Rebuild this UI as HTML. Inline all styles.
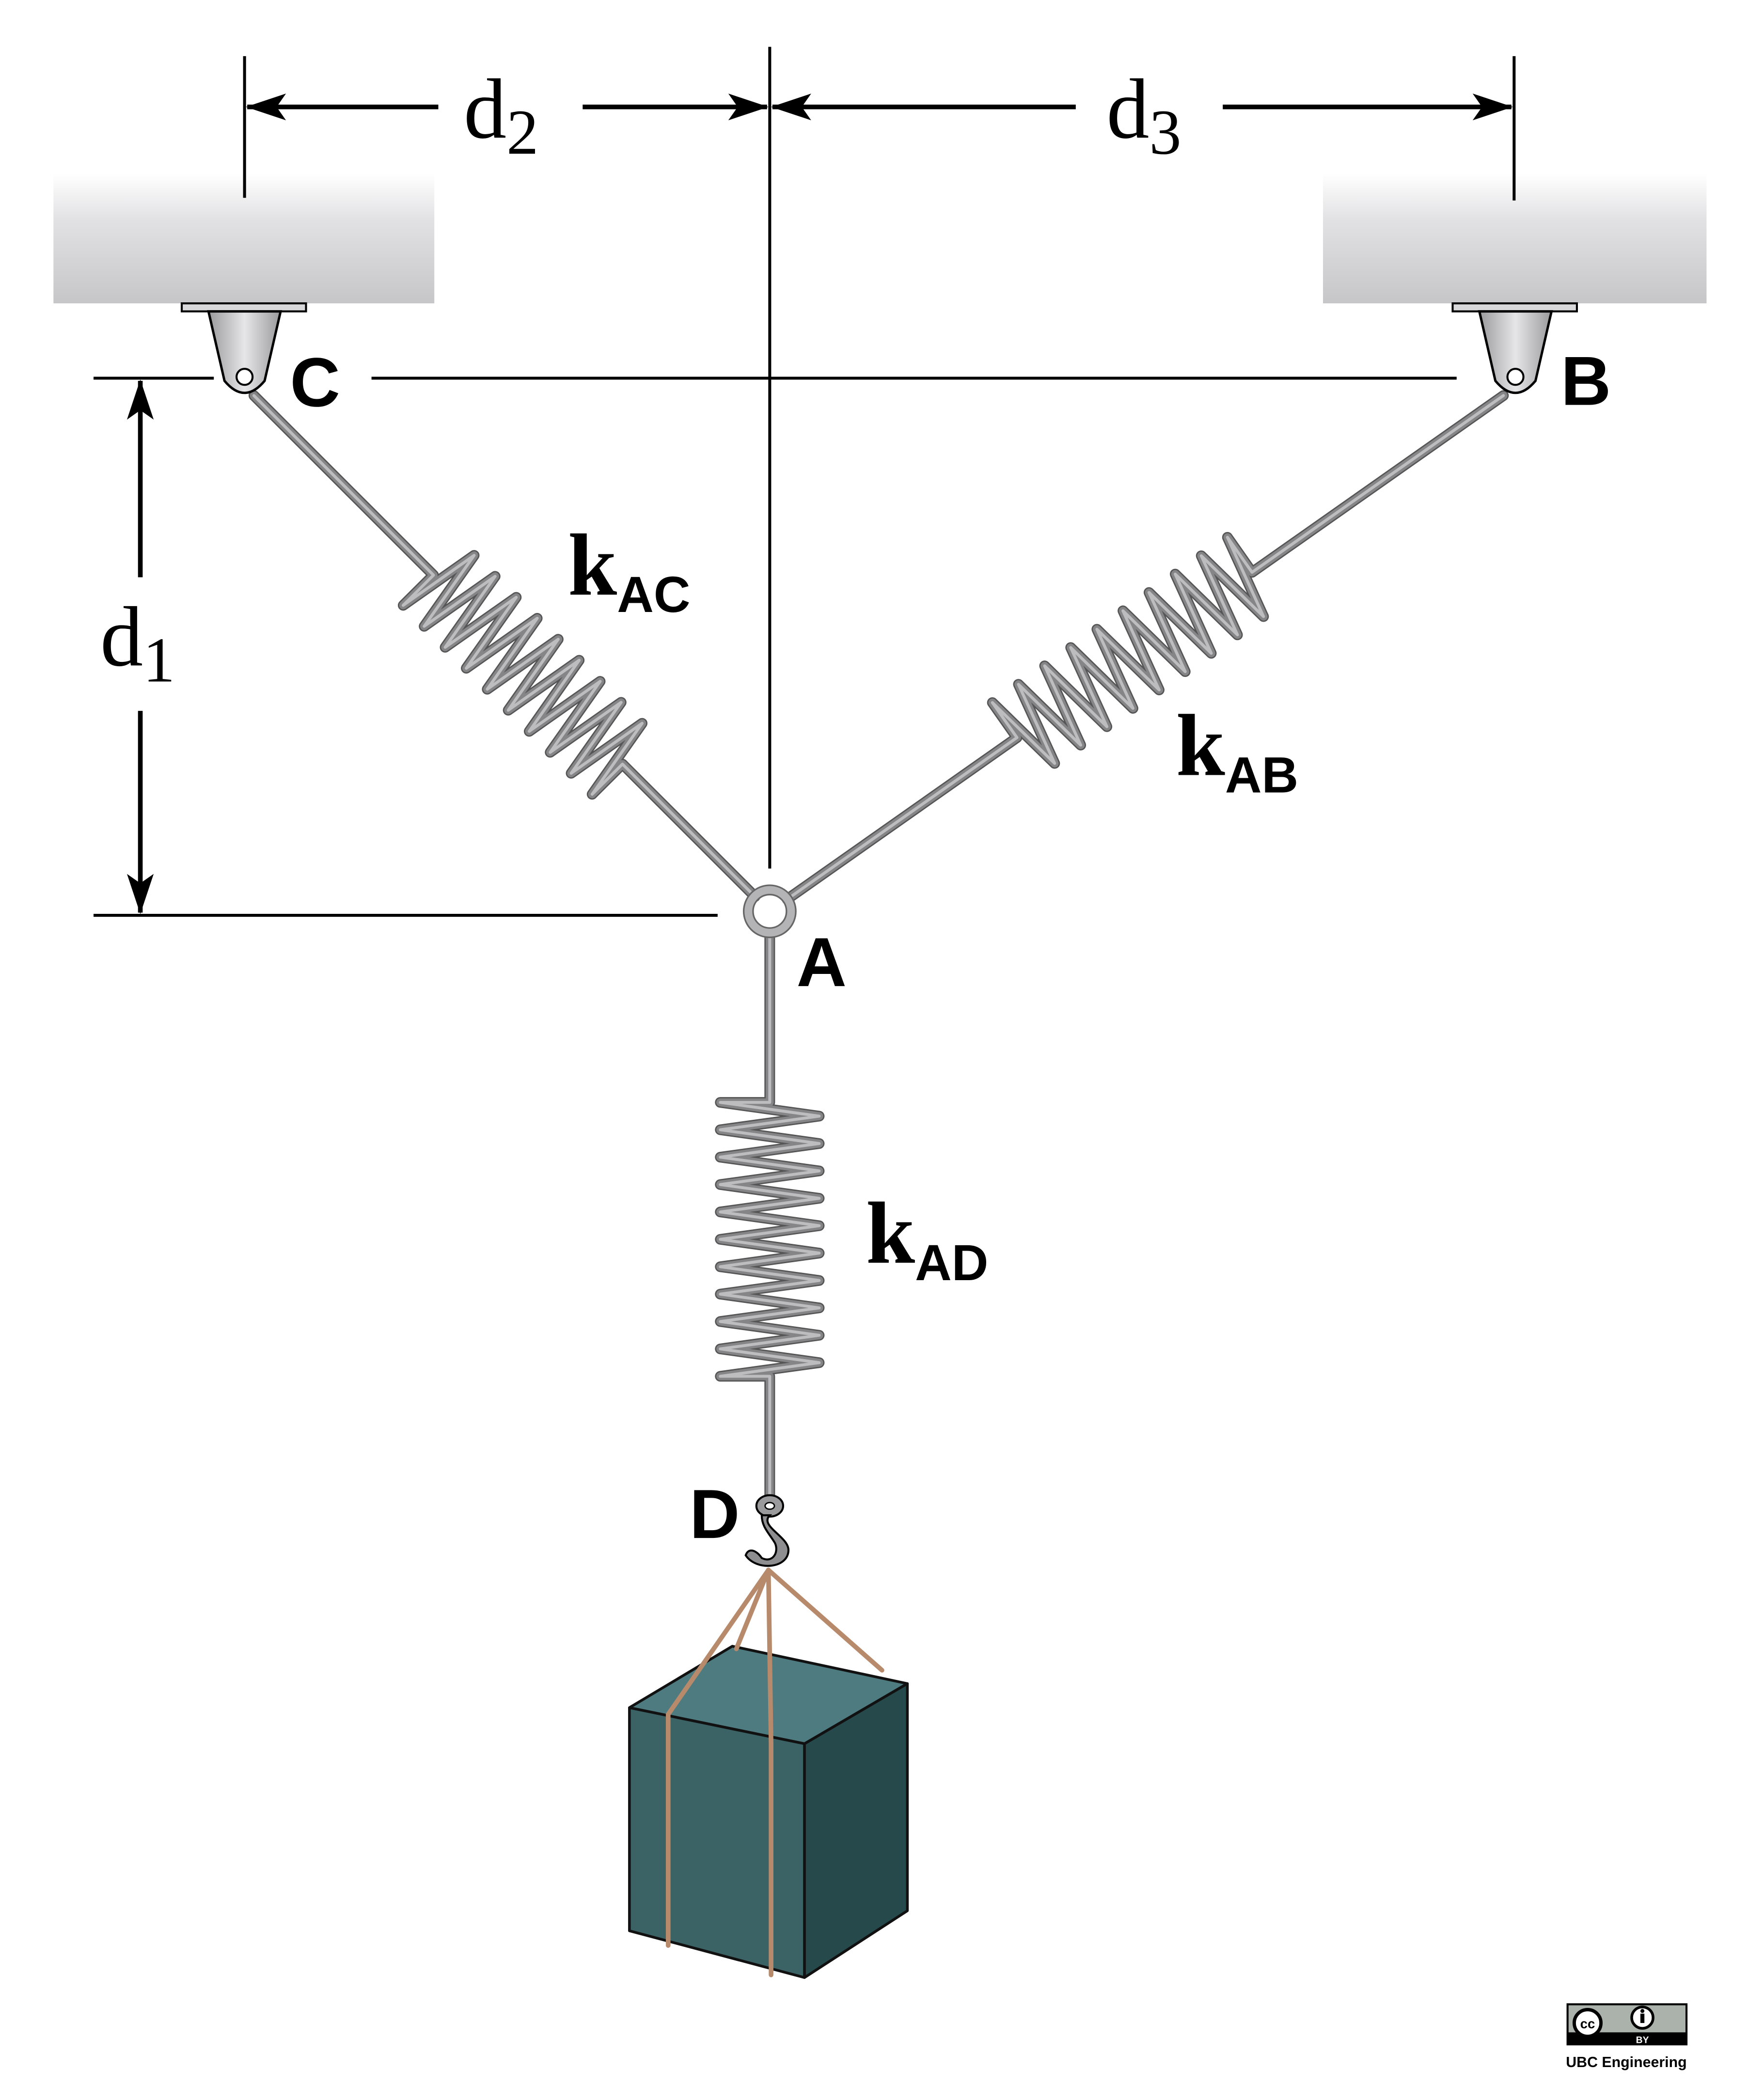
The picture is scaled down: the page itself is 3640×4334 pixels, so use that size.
<!DOCTYPE html>
<html><head><meta charset="utf-8">
<style>
html,body{margin:0;padding:0;background:#fff;}
svg{display:block;}
.lbl{font-family:"Liberation Sans",sans-serif;font-weight:bold;}
.ser{font-family:"Liberation Serif",serif;}
</style></head>
<body>
<svg id="fig" width="3640" height="4334" viewBox="0 0 1320 1571.6" xmlns="http://www.w3.org/2000/svg">
<defs>
<linearGradient id="ceil" x1="0" y1="0" x2="0" y2="1">
<stop offset="0" stop-color="#ffffff"/><stop offset="0.35" stop-color="#e2e2e4"/><stop offset="1" stop-color="#c6c6c8"/>
</linearGradient>
<linearGradient id="brk" x1="0" y1="0" x2="1" y2="0">
<stop offset="0" stop-color="#9a9a9c"/><stop offset="0.5" stop-color="#e6e6e8"/><stop offset="1" stop-color="#9a9a9c"/>
</linearGradient>
<marker id="ah" viewBox="0 0 30 20" refX="29" refY="10" markerWidth="30" markerHeight="20" markerUnits="userSpaceOnUse" orient="auto">
<path d="M0,0 L30,10 L0,20 L7,10 Z" fill="#000"/>
</marker>
</defs>

<rect x="40" y="130" width="285" height="97" fill="url(#ceil)"/>
<rect x="990" y="130" width="287" height="97" fill="url(#ceil)"/>

<g stroke="#000" stroke-width="2.2" fill="none">
<line x1="183" y1="42" x2="183" y2="148"/>
<line x1="576" y1="35" x2="576" y2="650"/>
<line x1="1133" y1="42" x2="1133" y2="150"/>
<line x1="70" y1="283" x2="160" y2="283"/>
<line x1="278" y1="283" x2="1090" y2="283"/>
<line x1="70" y1="685" x2="537" y2="685"/>
<line x1="328" y1="80" x2="185" y2="80" stroke-width="3.5" marker-end="url(#ah)"/>
<line x1="436" y1="80" x2="574" y2="80" stroke-width="3.5" marker-end="url(#ah)"/>
<line x1="805" y1="80" x2="578" y2="80" stroke-width="3.5" marker-end="url(#ah)"/>
<line x1="915" y1="80" x2="1131" y2="80" stroke-width="3.5" marker-end="url(#ah)"/>
<line x1="105" y1="432" x2="105" y2="285" stroke-width="3.5" marker-end="url(#ah)"/>
<line x1="105" y1="532" x2="105" y2="683" stroke-width="3.5" marker-end="url(#ah)"/>
</g>
<text class="ser" x="347" y="103" font-size="64">d<tspan font-size="48" dy="12">2</tspan></text>
<text class="ser" x="828" y="103" font-size="64">d<tspan font-size="48" dy="12">3</tspan></text>
<text class="ser" x="75" y="498" font-size="64">d<tspan font-size="48" dy="12">1</tspan></text>

<g id="springs"></g>

<g>
<rect x="136" y="227" width="93" height="6" fill="#d8d8da" stroke="#000" stroke-width="1.5"/>
<path d="M156,233 L210,233 L198,285 Q183,303 168,285 Z" fill="url(#brk)" stroke="#000" stroke-width="1.8"/>
<circle cx="183" cy="282" r="6" fill="#fff" stroke="#000" stroke-width="1.5"/>
</g>
<g>
<rect x="1087" y="227" width="93" height="6" fill="#d8d8da" stroke="#000" stroke-width="1.5"/>
<path d="M1107,233 L1161,233 L1149,285 Q1134,303 1119,285 Z" fill="url(#brk)" stroke="#000" stroke-width="1.8"/>
<circle cx="1134" cy="282" r="6" fill="#fff" stroke="#000" stroke-width="1.5"/>
</g>

<circle cx="576" cy="682" r="16" fill="none" stroke="#b4b4b6" stroke-width="7"/>
<circle cx="576" cy="682" r="19.5" fill="none" stroke="#666" stroke-width="1.2"/>
<circle cx="576" cy="682" r="12.5" fill="none" stroke="#666" stroke-width="1.2"/>

<g>
<ellipse cx="576" cy="1127" rx="10" ry="8" fill="#9a9a9c" stroke="#000" stroke-width="1.5"/>
<ellipse cx="576" cy="1127" rx="3.5" ry="2.5" fill="#fff" stroke="#000" stroke-width="1"/>
<path d="M576,1134 C568,1142 590,1150 590,1160 C590,1174 566,1176 558,1164 C560,1158 566,1160 570,1166 C578,1170 583,1162 580,1155 C576,1148 570,1143 570,1134 Z" fill="#8e8e90" stroke="#000" stroke-width="1.5"/>
</g>

<g stroke="#111" stroke-width="2" stroke-linejoin="round">
<polygon points="471,1278 548,1232 679,1260 602,1305" fill="#4d7b80"/>
<polygon points="471,1278 602,1305 602,1480 471,1445" fill="#3b6366"/>
<polygon points="602,1305 679,1260 679,1430 602,1480" fill="#26494c"/>
</g>
<g stroke="#b88a6c" stroke-width="3.5" fill="none" stroke-linecap="round">
<polyline points="575,1175 500,1283 500,1456"/>
<polyline points="575,1175 577,1305 577,1478"/>
<line x1="575" y1="1175" x2="551" y2="1234"/>
<line x1="575" y1="1175" x2="660" y2="1250"/>
</g>

<text class="lbl" x="217" y="304" font-size="52">C</text>
<text class="lbl" x="1168" y="303" font-size="52">B</text>
<text class="lbl" x="596" y="738" font-size="52">A</text>
<text class="lbl" x="516" y="1151" font-size="52">D</text>

<text x="425" y="445" font-size="66" class="ser" font-weight="bold">k<tspan class="lbl" font-size="38" dy="13">AC</tspan></text>
<text x="880" y="580" font-size="66" class="ser" font-weight="bold">k<tspan class="lbl" font-size="38" dy="13">AB</tspan></text>
<text x="648" y="945" font-size="66" class="ser" font-weight="bold">k<tspan class="lbl" font-size="38" dy="13">AD</tspan></text>

<g>
<rect x="1173" y="1500" width="89" height="30" fill="#aab2ab" stroke="#000" stroke-width="1.5"/>
<rect x="1173" y="1521" width="89" height="9" fill="#000"/>
<circle cx="1188" cy="1514" r="10" fill="#fff" stroke="#000" stroke-width="2.5"/>
<text x="1188" y="1518" font-size="10" text-anchor="middle" class="lbl">cc</text>
<circle cx="1229" cy="1510" r="8" fill="#fff" stroke="#000" stroke-width="2"/>
<rect x="1227.5" y="1507" width="3" height="7" fill="#000"/><circle cx="1229" cy="1505" r="1.5" fill="#000"/>
<text x="1229" y="1529" font-size="7" fill="#fff" text-anchor="middle" class="lbl">BY</text>
</g>
<text class="lbl" x="1217" y="1547" font-size="11" text-anchor="middle">UBC Engineering</text>
</svg>
<script>
const NS="http://www.w3.org/2000/svg";
const g=document.getElementById('springs');
function spring(name,x0,y0,x1,y1,a,b,n,amp){
  const dx=x1-x0,dy=y1-y0,L=Math.hypot(dx,dy),ux=dx/L,uy=dy/L,px=-uy,py=ux;
  const P=(s,o)=>[(x0+ux*s+px*o).toFixed(1),(y0+uy*s+py*o).toFixed(1)];
  const pts=[P(0,0),P(a,0)];
  const step=(b-a)/(2*n);
  for(let i=0;i<=2*n;i++){
    const s=a+i*step;
    const o=(i%2===0?amp:-amp);
    pts.push(P(s,o));
  }
  pts.push(P(b,0),P(L,0));
  const d='M'+pts.map(p=>p.join(',')).join(' L');
  const grp=document.createElementNS(NS,'g');
  
  
  [['#555',8],['#858587',6],['#bdbdbf',2.2]].forEach(([c,w])=>{
    const p=document.createElementNS(NS,'path');
    p.setAttribute('d',d);p.setAttribute('fill','none');
    p.setAttribute('stroke',c);p.setAttribute('stroke-width',w);
    p.setAttribute('stroke-linejoin','round');p.setAttribute('stroke-linecap','round');
    grp.appendChild(p);
  });
  g.appendChild(grp);
}
spring('spring-ac',190,296,565,671,190,390,9,32);
spring('spring-ab',1125,296,589,673,230,445,9,32);
spring('spring-ad',576,700,576,1122,125,330,10,37);
</script>
</body></html>
